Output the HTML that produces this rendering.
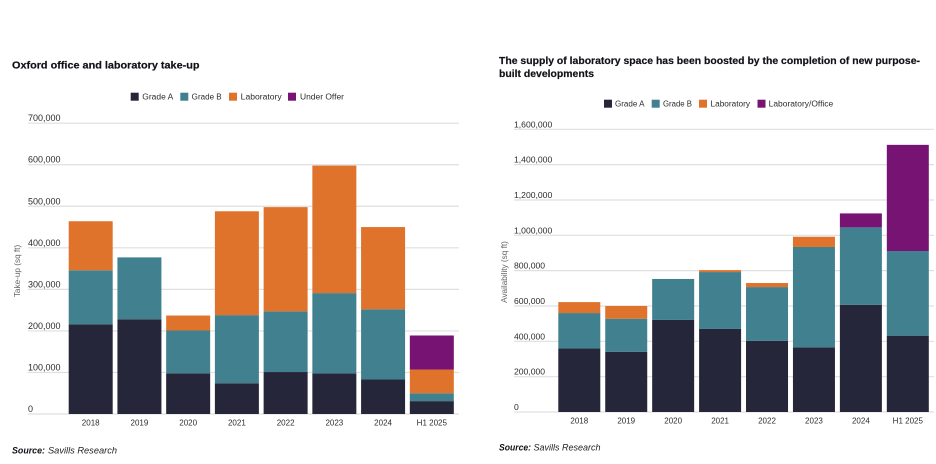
<!DOCTYPE html>
<html lang="en">
<head>
<meta charset="utf-8">
<title>Oxford office and laboratory charts</title>
<style>
html,body{margin:0;padding:0;background:#fff;}
#stage{display:block;width:936px;height:464px;font-family:"Liberation Sans",sans-serif;}
</style>
</head>
<body>
<svg id="stage" xmlns="http://www.w3.org/2000/svg" width="936" height="464" viewBox="0 0 936 464">
  <rect x="0" y="0" width="936" height="464" fill="#ffffff"/>

  <text x="12" y="68.5" font-size="10.5" font-weight="700" fill="#111118" stroke="#111118" stroke-width="0.2" textLength="187.5" lengthAdjust="spacingAndGlyphs">Oxford office and laboratory take-up</text>
  <text x="499" y="64" font-size="10.5" font-weight="700" fill="#111118" stroke="#111118" stroke-width="0.2" textLength="421" lengthAdjust="spacingAndGlyphs">The supply of laboratory space has been boosted by the completion of new purpose-</text>
  <text x="499" y="77" font-size="10.5" font-weight="700" fill="#111118" stroke="#111118" stroke-width="0.2" textLength="95" lengthAdjust="spacingAndGlyphs">built developments</text>

  <g id="left-chart"></g>
  <g id="right-chart"></g>

  <text x="12" y="453.5" font-size="9" font-weight="700" font-style="italic" fill="#111118" textLength="33" lengthAdjust="spacingAndGlyphs">Source:</text>
  <text x="48" y="453.5" font-size="9" font-style="italic" fill="#222222" textLength="69" lengthAdjust="spacingAndGlyphs">Savills Research</text>
  <text x="499" y="450.5" font-size="9" font-weight="700" font-style="italic" fill="#111118" textLength="32" lengthAdjust="spacingAndGlyphs">Source:</text>
  <text x="533.5" y="450.5" font-size="9" font-style="italic" fill="#222222" textLength="67" lengthAdjust="spacingAndGlyphs">Savills Research</text>
</svg>

<script>
var categories = ["2018", "2019", "2020", "2021", "2022", "2023", "2024", "H1 2025"];

var leftTicks = [0, 100000, 200000, 300000, 400000, 500000, 600000, 700000];
var leftGradeA = [216000, 228000, 98000, 74000, 101000, 98000, 83000, 31000];
var leftGradeB = [130000, 149000, 103000, 164000, 146000, 193000, 169000, 19000];
var leftLaboratory = [118000, 0, 36000, 250000, 251000, 307000, 198000, 57000];
var leftUnderOffer = [0, 0, 0, 0, 0, 0, 0, 82000];

var rightTicks = [0, 200000, 400000, 600000, 800000, 1000000, 1200000, 1400000, 1600000];
var rightGradeA = [360000, 341000, 521000, 470000, 403000, 366000, 607000, 432000];
var rightGradeB = [200000, 187000, 232000, 322000, 304000, 568000, 438000, 479000];
var rightLaboratory = [62000, 72000, 0, 11000, 23000, 58000, 0, 0];
var rightLabOffice = [0, 0, 0, 0, 0, 0, 79000, 601000];

var seriesColors = ["#252639", "#41808f", "#e0732c", "#771473"];
var SVGNS = "http://www.w3.org/2000/svg";

function slug(s) {
  return s.toLowerCase().replace(/[^a-z0-9]+/g, "-").replace(/^-|-$/g, "");
}

function make(parent, tag, attrs, text) {
  var el = document.createElementNS(SVGNS, tag);
  for (var k in attrs) { el.setAttribute(k, attrs[k]); }
  if (text !== undefined) { el.textContent = text; }
  parent.appendChild(el);
  return el;
}

function drawChart(cfg) {
  var root = document.getElementById(cfg.rootId);
  var maxTick = cfg.ticks[cfg.ticks.length - 1];
  function yScale(v) {
    return cfg.y0 - (v / maxTick) * (cfg.y0 - cfg.yTop);
  }
  function xCenter(i) {
    return cfg.firstCenter + i * cfg.step;
  }

  cfg.ticks.forEach(function (t) {
    var y = yScale(t);
    var line = make(root, "line", {x1: cfg.axisLeft, x2: cfg.axisRight, y1: y, y2: y, stroke: "#dfdfe1", "stroke-width": 1.2});
    
    
    var label = make(root, "text", {x: cfg.axisLeft, y: y - cfg.tickGap, "font-size": cfg.tickSize, fill: "#2c2c30"}, t.toLocaleString("en-US"));
    
    
  });

  categories.forEach(function (cat, i) {
    var base = 0;
    cfg.series.forEach(function (s, j) {
      var v = s.values[i];
      if (v > 0) {
        var yTopBar = yScale(base + v);
        var bar = make(root, "rect", {
          x: xCenter(i) - cfg.barWidth / 2,
          y: yTopBar,
          width: cfg.barWidth,
          height: yScale(base) - yTopBar,
          fill: seriesColors[j]
        });
        
        
      }
      base += v;
    });
    var xl = make(root, "text", {x: xCenter(i), y: cfg.xLabelY, "font-size": 8, "text-anchor": "middle", fill: "#2c2c30"}, cat);
    
    
  });

  var yt = make(root, "text", {
    x: cfg.yTitleX, y: cfg.yTitleY, "font-size": 8.2, "text-anchor": "middle", fill: "#66666a",
    transform: "rotate(-90 " + cfg.yTitleX + " " + cfg.yTitleY + ")"
  }, cfg.yTitle);
  
  

  cfg.series.forEach(function (s, j) {
    var leg = cfg.legend[j];
    var sw = make(root, "rect", {x: leg[0], y: cfg.legendY, width: 8, height: 8, fill: seriesColors[j]});
    
    
    var lt = make(root, "text", {x: leg[1], y: cfg.legendY + 7, "font-size": 8, fill: "#2c2c30", textLength: leg[2], lengthAdjust: "spacingAndGlyphs"}, s.name);
    
    
  });
}

drawChart({
  rootId: "left-chart",
  ticks: leftTicks,
  series: [
    {name: "Grade A", values: leftGradeA},
    {name: "Grade B", values: leftGradeB},
    {name: "Laboratory", values: leftLaboratory},
    {name: "Under Offer", values: leftUnderOffer}
  ],
  y0: 414, yTop: 123.2,
  axisLeft: 28, axisRight: 459,
  firstCenter: 90.7, step: 48.73, barWidth: 44,
  xLabelY: 425.5, tickGap: 2, tickSize: 9,
  yTitle: "Take-up (sq ft)", yTitleX: 20, yTitleY: 271,
  legendY: 92.7,
  legend: [[130.7, 142.3, 31], [180.3, 191.7, 30], [229, 240.7, 41], [288, 300, 44]]
});

drawChart({
  rootId: "right-chart",
  ticks: rightTicks,
  series: [
    {name: "Grade A", values: rightGradeA},
    {name: "Grade B", values: rightGradeB},
    {name: "Laboratory", values: rightLaboratory},
    {name: "Laboratory/Office", values: rightLabOffice}
  ],
  y0: 412, yTop: 129.3,
  axisLeft: 514, axisRight: 934,
  firstCenter: 579.3, step: 46.93, barWidth: 42,
  xLabelY: 423.5, tickGap: 2, tickSize: 8.6,
  yTitle: "Availability (sq ft)", yTitleX: 507, yTitleY: 272,
  legendY: 99.7,
  legend: [[604, 615, 29.5], [651.7, 663, 29], [699, 710.5, 39.5], [757.5, 768.7, 64.5]]
});
</script>
</body>
</html>
